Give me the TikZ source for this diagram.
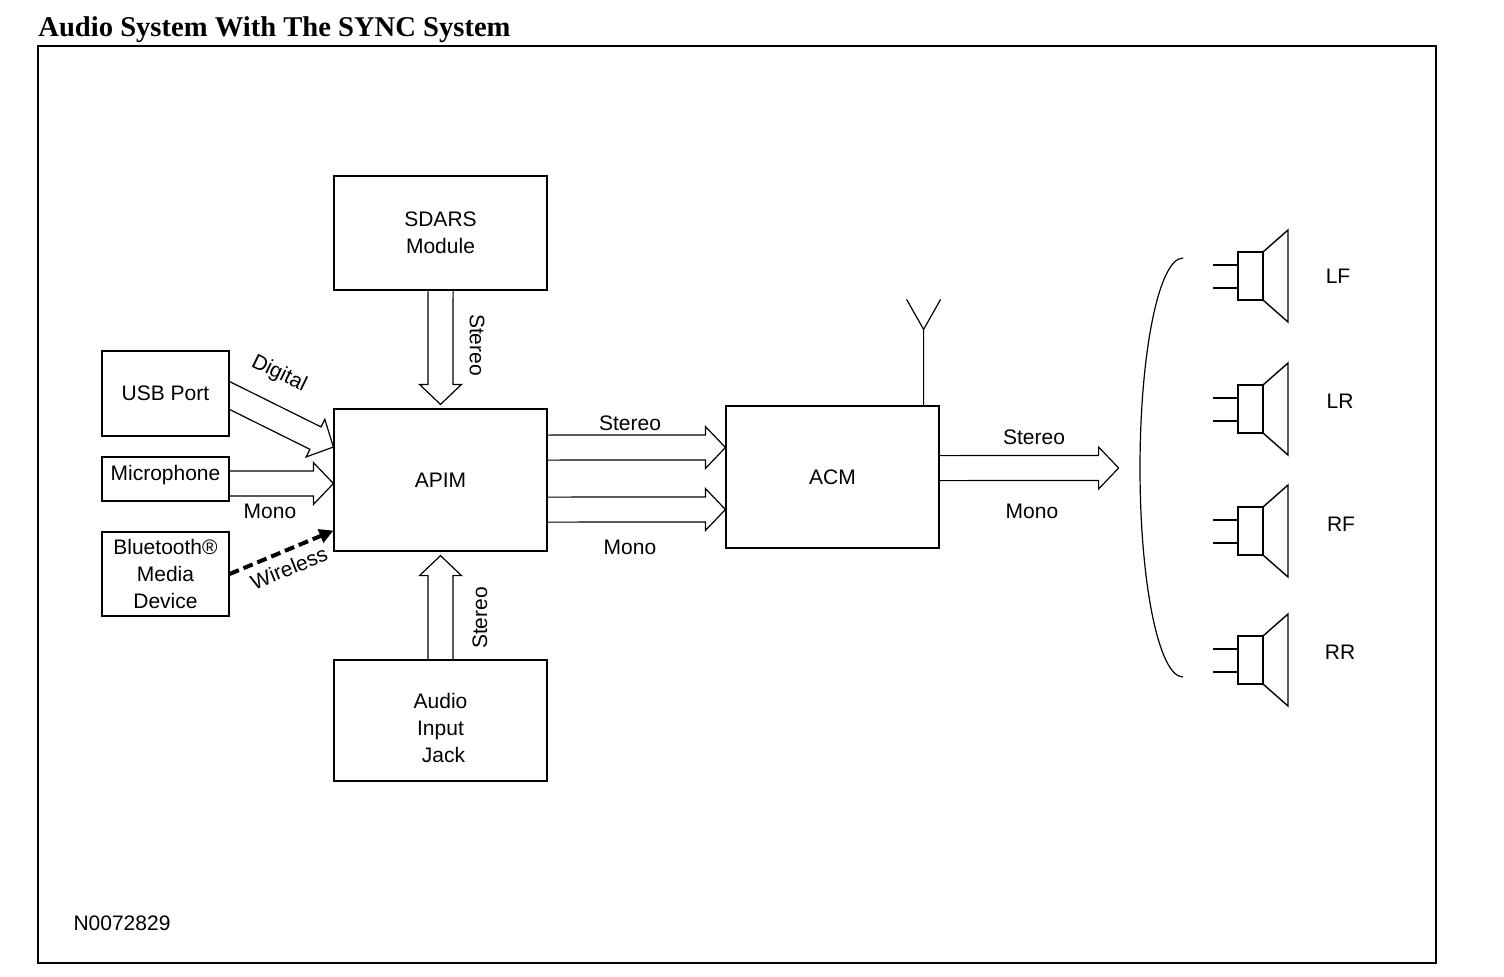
\documentclass[tikz,border=0pt]{standalone}
\usepackage{fontspec}
\setmainfont{Liberation Sans}
\newfontfamily\titlefont{Liberation Serif}
\usetikzlibrary{calc,arrows.meta}
\tikzset{
  box/.style={draw, line width=0.6pt, inner sep=0pt, align=center, font=\fontsize{10.5}{13.5}\selectfont},
  lbl/.style={inner sep=0pt, font=\fontsize{10.5}{13.5}\selectfont},
  barrow/.style={line width=0.6pt, line join=miter},
  spkline/.style={line width=0.7pt},
}
\newcommand\blockarrow[4]{%
  \coordinate (ba-e1) at (#3);
  \coordinate (ba-e2) at (#4);
  \coordinate (ba-h) at ($(#2)!10pt!(#1)$);
  \coordinate (ba-w1) at ($(ba-h)!6.25pt!90:(#2)$);
  \coordinate (ba-w2) at ($(ba-h)!6.25pt!-90:(#2)$);
  \coordinate (ba-b1) at ($(#1)!6.25pt!90:(#2)$);
  \coordinate (ba-b2) at ($(#1)!6.25pt!-90:(#2)$);
  \draw[barrow] (intersection of ba-b1--ba-w1 and ba-e1--ba-e2) -- (ba-w1)
     -- ($(ba-h)!10.5pt!90:(#2)$) -- (#2) -- ($(ba-h)!10.5pt!-90:(#2)$)
     -- (ba-w2) -- (intersection of ba-b2--ba-w2 and ba-e1--ba-e2);
}
\newcommand\speakersym[2]{%
  \begin{scope}[shift={(1238,#1)}]
    \draw[spkline] (-25,-11) -- (0,-11) (-25,12) -- (0,12);
    \draw[spkline] (0,-24) rectangle (25,24);
    \draw[spkline] (25,-24) -- (50,-46) -- (50,46) -- (25,24);
  \end{scope}
}
\begin{document}
\begin{tikzpicture}[x=0.5pt,y=-0.5pt]
\useasboundingbox (0,0) rectangle (1504,976);
\node[anchor=base west, inner sep=0pt, font=\titlefont\bfseries\fontsize{14.3}{17}\selectfont] (title) at (38,36) {Audio System With The SYNC System};
\draw[line width=1pt] (38,46) rectangle (1436,963);

% boxes
\node[box, minimum width=106.5pt, minimum height=57pt] (sdars) at (440.5,233) {SDARS\\Module};
\node[box, minimum width=106.5pt, minimum height=71pt] (apim) at (440.5,480) {APIM};
\node[box, minimum width=106.5pt, minimum height=60.5pt] (aij) at (440.5,720.5) {};
\node[lbl, align=center] (aij-t) at ($(aij.center)+(0,7)$) {Audio\\Input\\\ Jack};
\node[box, minimum width=63.5pt, minimum height=42.5pt] (usb) at (165.5,393.5) {USB Port};
\node[box, minimum width=63.5pt, minimum height=22pt] (mic) at (165.5,479) {};
\node[lbl] (mic-t) at ($(mic.center)+(0,-4)$) {Microphone};
\node[box, minimum width=63.5pt, minimum height=42pt] (bt) at (165.5,574) {Bluetooth®\\Media\\Device};
\node[box, minimum width=106.5pt, minimum height=71pt] (acm) at (832.5,477) {ACM};

% block arrows
\coordinate (s-sd) at (sdars.south);
\coordinate (t-sd) at ($(apim.north)+(0,-4)$);
\blockarrow{s-sd}{t-sd}{sdars.south west}{sdars.south east}
\coordinate (s-aij) at (aij.north);
\coordinate (t-aij) at ($(apim.south)+(0,4)$);
\blockarrow{s-aij}{t-aij}{aij.north west}{aij.north east}
\coordinate (s-usb) at ($(usb.east)+(0,2)$);
\coordinate (t-usb) at ($(apim.west)+(0,-33)$);
\blockarrow{s-usb}{t-usb}{usb.north east}{usb.south east}
\coordinate (s-mic) at ($(mic.east)+(0,4.5)$);
\coordinate (t-mic) at ($(apim.west)+(0,3.5)$);
\blockarrow{s-mic}{t-mic}{mic.north east}{mic.south east}
\coordinate (s-ap1) at ($(apim.east)+(0,-32.5)$);
\coordinate (t-ap1) at ($(acm.west)+(0,-29.5)$);
\blockarrow{s-ap1}{t-ap1}{apim.north east}{apim.south east}
\coordinate (s-ap2) at ($(apim.east)+(0,29.5)$);
\coordinate (t-ap2) at ($(acm.west)+(0,32.5)$);
\blockarrow{s-ap2}{t-ap2}{apim.north east}{apim.south east}
\coordinate (s-acm) at ($(acm.east)+(0,-9)$);
\coordinate (t-acm) at ($(acm.east)+(179,-9)$);
\blockarrow{s-acm}{t-acm}{acm.north east}{acm.south east}

% wireless
\coordinate (t-bt) at ($(apim.south west)+(0,-21)$);
\draw[line width=2pt, dash pattern=on 5pt off 2.5pt, -{Triangle[length=7pt,width=7pt]}] (bt.east) -- (t-bt);

% labels
\node[lbl, rotate=-90] (l-sd) at (477,345) {Stereo};
\node[lbl, rotate=90] (l-aij) at (480,618) {Stereo};
\node[lbl, rotate=-26] (l-dig) at (279,374) {Digital};
\node[lbl] (l-mono1) at (270,511) {Mono};
\node[lbl, rotate=22] (l-wl) at (289,568) {Wireless};
\node[lbl] (l-st2) at (630,423) {Stereo};
\node[lbl] (l-mono2) at (630,547) {Mono};
\node[lbl] (l-st3) at (1034,437) {Stereo};
\node[lbl] (l-mono3) at (1032,511) {Mono};

% antenna
\coordinate (ant) at ($(acm.north east)+(-16,0)$);
\coordinate (antv) at ($(ant)+(0,-76)$);
\coordinate (antl) at ($(antv)+(-17,-30)$);
\coordinate (antr) at ($(antv)+(17,-30)$);
\draw[line width=0.6pt] (ant) -- (antv) -- (antl) (antv) -- (antr);

% bracket
\draw[line width=0.6pt] (1183,258) .. controls (1159,258) and (1140,352) .. (1140,468)
  .. controls (1140,584) and (1159,677) .. (1183,677);

% speakers
\speakersym{276}{LF}
\speakersym{409}{LR}
\speakersym{531}{RF}
\speakersym{660}{RR}
\node[lbl] (lf) at (1338,276) {LF};
\node[lbl] (lr) at (1340,401) {LR};
\node[lbl] (rf) at (1341,524) {RF};
\node[lbl] (rr) at (1340,652) {RR};

\node[lbl] (code) at (122,923) {N0072829};
\end{tikzpicture}
\end{document}
